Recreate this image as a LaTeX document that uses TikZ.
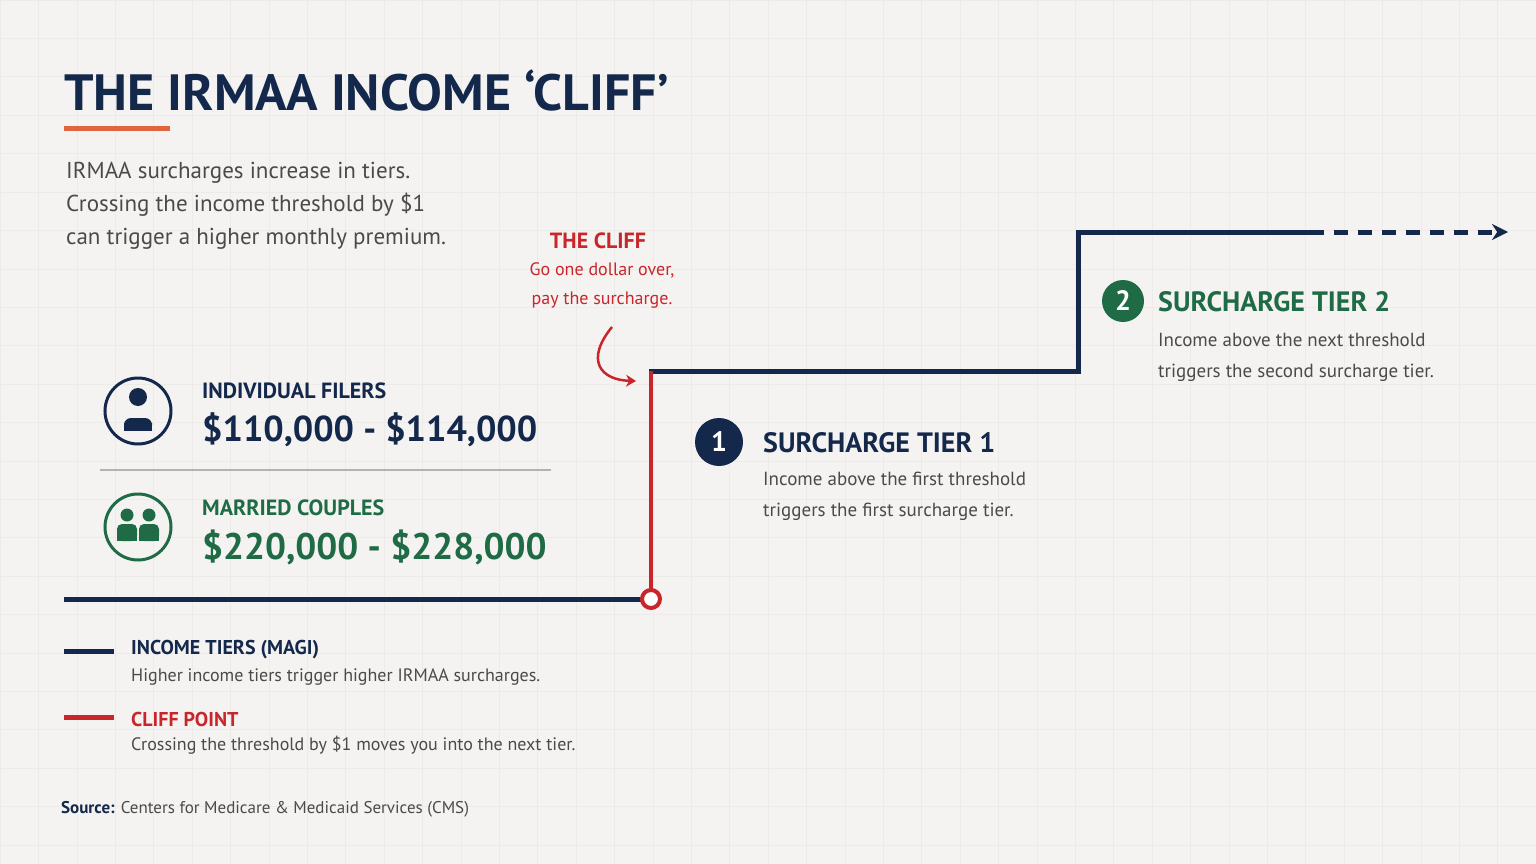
\documentclass[tikz,border=0pt]{standalone}
\usepackage{fontspec}
\setmainfont{PT Sans}
\usetikzlibrary{arrows.meta}
\definecolor{navy}{HTML}{14284B}
\definecolor{cred}{HTML}{C8262B}
\definecolor{cgreen}{HTML}{1E6B45}
\definecolor{txt}{HTML}{4A4A4A}
\definecolor{bg}{HTML}{F4F3F1}
\definecolor{grid}{HTML}{ECEBE8}
\definecolor{orange}{HTML}{E0643C}
\tikzset{
  lbl/.style={anchor=west,inner sep=0pt},
  body/.style={lbl,text=txt,font=\fontsize{19}{24}\selectfont},
  head/.style={lbl,font=\bfseries\fontsize{24}{28}\selectfont},
  navyline/.style={draw=navy,line width=5pt},
  redline/.style={draw=cred,line width=4pt},
  ring/.style={circle,draw,line width=3pt,minimum size=66pt,inner sep=0pt},
  num/.style={circle,fill,minimum size=48pt,inner sep=0pt,text=white,font=\bfseries\fontsize{28}{28}\selectfont},
}
\begin{document}
\begin{tikzpicture}[x=1pt,y=-1pt]
\useasboundingbox (0,0) rectangle (1536,864);
\fill[bg] (0,0) rectangle (1536,864);
\draw[grid,line width=0.6pt] (0,0) grid[step=38.4pt] (1536,864);
% title
\node[lbl,text=navy,font=\bfseries\fontsize{51}{51}\selectfont,xscale=1.02] (title) at (64,90) {THE IRMAA INCOME ‘CLIFF’};
\fill[orange] (64,126) rectangle (170,131);
\node[lbl,text=txt,font=\fontsize{23}{33}\selectfont,align=left,anchor=north west] (intro) at (66,162) {IRMAA surcharges increase in tiers.\\Crossing the income threshold by \$1\\can trigger a higher monthly premium.};
% steps
\coordinate (s0) at (64,599);
\coordinate (c0) at (651,599);
\coordinate (c1) at (651,371);
\coordinate (s2) at (1078,371);
\coordinate (s3) at (1078,232);
\coordinate (s4) at (1310,232);
\coordinate (s5) at (1508,232);
\draw[navyline] (s0) -- (c0);
\draw[navyline,line cap=rect] (c1) -- (s2) -- (s3) -- (s4);
\draw[navyline,dashed,dash pattern=on 14pt off 10pt,-{Stealth[length=16pt,width=16pt]}] (s4) -- (s5);
\draw[redline] (c0) -- (c1);
\node[circle,draw=cred,fill=white,line width=4pt,minimum size=18pt,inner sep=0pt] (cp) at (c0) {};
% cliff note
\node[text=cred,font=\bfseries\fontsize{22}{22}\selectfont] (cliff) at (598,241) {THE CLIFF};
\node[text=cred,font=\fontsize{18}{29}\selectfont,align=center] (cliffn) at (602,285) {Go one dollar over,\\pay the surcharge.};
\coordinate (a0) at (612,327);
\coordinate (a1) at (636,381);
\draw[cred,line width=2.5pt,-{Stealth[length=10pt,width=12pt]}] (a0) .. controls (585,360) and (600,380) .. (a1);
% filers
\node[ring,draw=navy] (i1) at (138,411) {};
\fill[navy] (138,397) circle (9pt);
\fill[navy,rounded corners=7pt] (124,430) -- (124,418) -- (152,418) -- (152,430) -- cycle;
\fill[navy] (124,424) rectangle (152,431);
\node[lbl,text=navy,font=\bfseries\fontsize{22}{22}\selectfont] (ih) at (202,391) {INDIVIDUAL FILERS};
\node[lbl,text=navy,font=\bfseries\fontsize{36}{36}\selectfont] (iv) at (202,430) {\$110,000 - \$114,000};
\draw[gray!60,line width=2.5pt] (100,470) -- (551,470);
\node[ring,draw=cgreen] (i2) at (138,527) {};
\foreach \dx in {-11,11}{
  \fill[cgreen] (138+\dx,515) circle (6.5pt);
  \fill[cgreen,rounded corners=5pt] (138+\dx-10,541) -- (138+\dx-10,524) -- (138+\dx+10,524) -- (138+\dx+10,541) -- cycle;
  \fill[cgreen] (138+\dx-10,535) rectangle (138+\dx+10,541);
}
\node[lbl,text=cgreen,font=\bfseries\fontsize{22}{22}\selectfont] (mh) at (202,508) {MARRIED COUPLES};
\node[lbl,text=cgreen,font=\bfseries\fontsize{37}{37}\selectfont] (mv) at (202,547) {\$220,000 - \$228,000};
% tiers
\node[num,fill=navy] (n1) at (719,442) {1};
\node[head,text=navy,font=\bfseries\fontsize{28}{28}\selectfont] (t1) at (763,443) {SURCHARGE TIER 1};
\node[body,align=left,anchor=north west,font=\fontsize{19}{31}\selectfont] (t1b) at (763,472) {Income above the first threshold\\triggers the first surcharge tier.};
\node[num,fill=cgreen,minimum size=42pt] (n2) at (1123,301) {2};
\node[head,text=cgreen,font=\bfseries\fontsize{28}{28}\selectfont] (t2) at (1158,302) {SURCHARGE TIER 2};
\node[body,align=left,anchor=north west,font=\fontsize{19}{31}\selectfont] (t2b) at (1158,333) {Income above the next threshold\\triggers the second surcharge tier.};
% legend
\coordinate (l1a) at (64,651); \coordinate (l1b) at (114,651);
\draw[navyline] (l1a) -- (l1b);
\node[lbl,text=navy,font=\bfseries\fontsize{20}{20}\selectfont] (lg1) at (131,650) {INCOME TIERS (MAGI)};
\node[body,font=\fontsize{18}{18}\selectfont] (lg1b) at (131,677) {Higher income tiers trigger higher IRMAA surcharges.};
\coordinate (l2a) at (64,717); \coordinate (l2b) at (114,717);
\draw[redline,line width=5pt] (l2a) -- (l2b);
\node[lbl,text=cred,font=\bfseries\fontsize{20}{20}\selectfont] (lg2) at (131,719) {CLIFF POINT};
\node[body,font=\fontsize{18}{18}\selectfont] (lg2b) at (131,745) {Crossing the threshold by \$1 moves you into the next tier.};
\node[lbl,text=txt,font=\fontsize{17}{17}\selectfont] (src) at (61,809) {\textcolor{navy}{\bfseries Source:} Centers for Medicare \& Medicaid Services (CMS)};
\end{tikzpicture}
\end{document}
